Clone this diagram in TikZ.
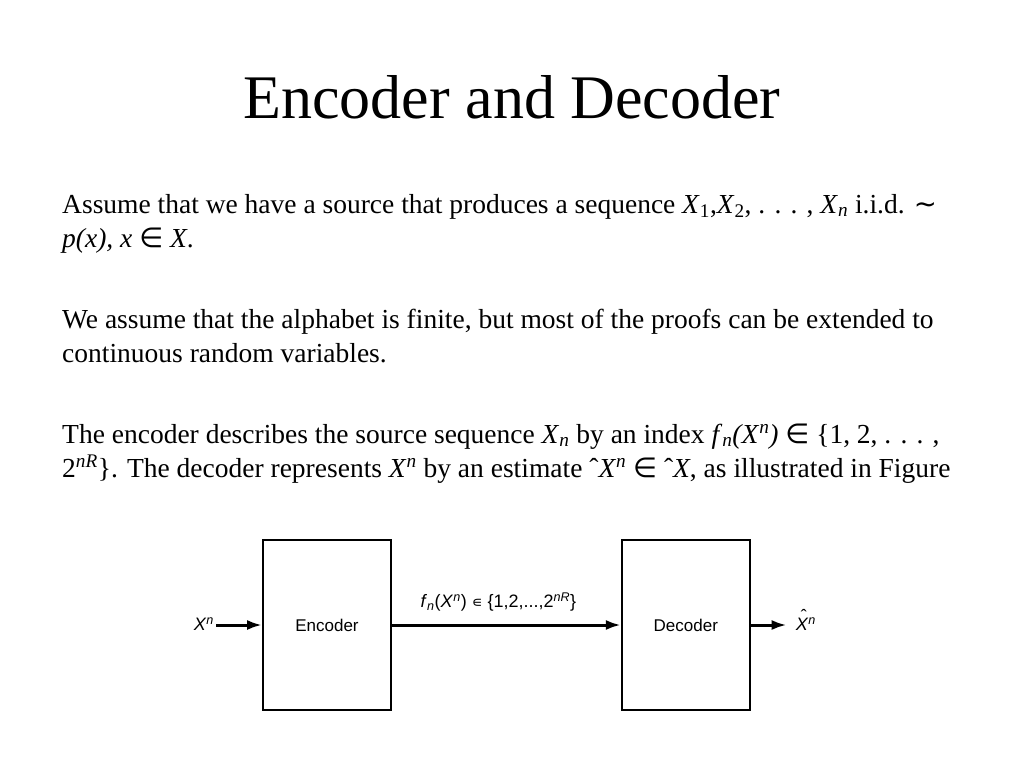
\documentclass[tikz,border=0pt]{standalone}
\usepackage{fontspec}
\setmainfont{Liberation Serif}
\newfontfamily\diagfont{Liberation Sans}
\newfontfamily\symfont{DejaVu Sans}
\usetikzlibrary{arrows.meta,positioning}
\def \tu {229pt}
\newcommand\hatX{\makebox[0pt][l]{\hspace{0.28em}\raisebox{0.45em}{ˆ}}\textit{X}}

\begin{document}
\begin{tikzpicture}[x=1pt,y=-1pt,node distance=\tu,
    >={Latex[length=15pt,width=10pt]},
    ttl/.style={anchor=base,font=\fontsize{62}{70}\selectfont},
    txt/.style={anchor=base west,inner sep=0pt,font=\fontsize{27.5}{34}\selectfont},
    blk/.style={draw,line width=1.8pt,minimum width=128pt,minimum height=170pt,
      inner sep=0pt,font=\diagfont\fontsize{17}{20}\selectfont},
    lbl/.style={font=\diagfont\fontsize{18}{20}\selectfont,text height=15pt,text depth=4pt,inner sep=2pt},
    wire/.style={line width=3pt}]
    \useasboundingbox[fill=white] (0,0) rectangle (1024,768);
    \node[ttl] (title) at (512,118) {Encoder and Decoder};
    \node[txt] (p1a) at (62,213) {Assume that we have a source that produces a sequence \textit{X}\textsubscript{1},\textit{X}\textsubscript{2}, . . . , \textit{X}\textsubscript{\textit{n}} i.i.d. {\symfont ∼}};
    \node[txt] (p1b) at (62,247) {\textit{p(x), x} {\symfont ∈} \textit{X}.};
    \node[txt] (p2a) at (62,328) {We assume that the alphabet is finite, but most of the proofs can be extended to};
    \node[txt] (p2b) at (62,362) {continuous random variables.};
    \node[txt] (p3a) at (62,443) {The encoder describes the source sequence \textit{X}\textsubscript{\textit{n}} by an index \textit{f}\textsubscript{\textit{n}}\textit{(X}\textsuperscript{\textit{n}}\textit{)} {\symfont ∈} \{1, 2, . . . ,};
    \node[txt] (p3b) at (62,477) {2\textsuperscript{\textit{nR}}\}. The decoder represents \textit{X}\textsuperscript{\textit{n}} by an estimate ˆ\textit{X}\textsuperscript{\textit{n}} {\symfont ∈} ˆ\textit{X}, as illustrated in Figure};
    % block diagram
    \node[blk] (enc) at (327,625) {Encoder};
    \node[blk,right=of enc] (dec) {Decoder};
    \node[lbl,left=46pt of enc] (xin) {\textit{X}\textsuperscript{\textit{n}}};
    \node[lbl,right=36pt of dec,inner xsep=9pt] (xout) {\hatX\textsuperscript{\textit{n}}};
    \draw[->,wire] (xin) -- (enc);
    \draw[->,wire] (enc) -- node[lbl,above=10pt,xshift=-8pt] {\textit{f}\textsubscript{\textit{n}}(\textit{X}\textsuperscript{\textit{n}}) {\symfont\fontsize{15}{16}\selectfont ∊} \{1,2,...,2\textsuperscript{\textit{nR}}\}} (dec);
    \draw[->,wire] (dec) -- (xout);
\end{tikzpicture}
\end{document}
